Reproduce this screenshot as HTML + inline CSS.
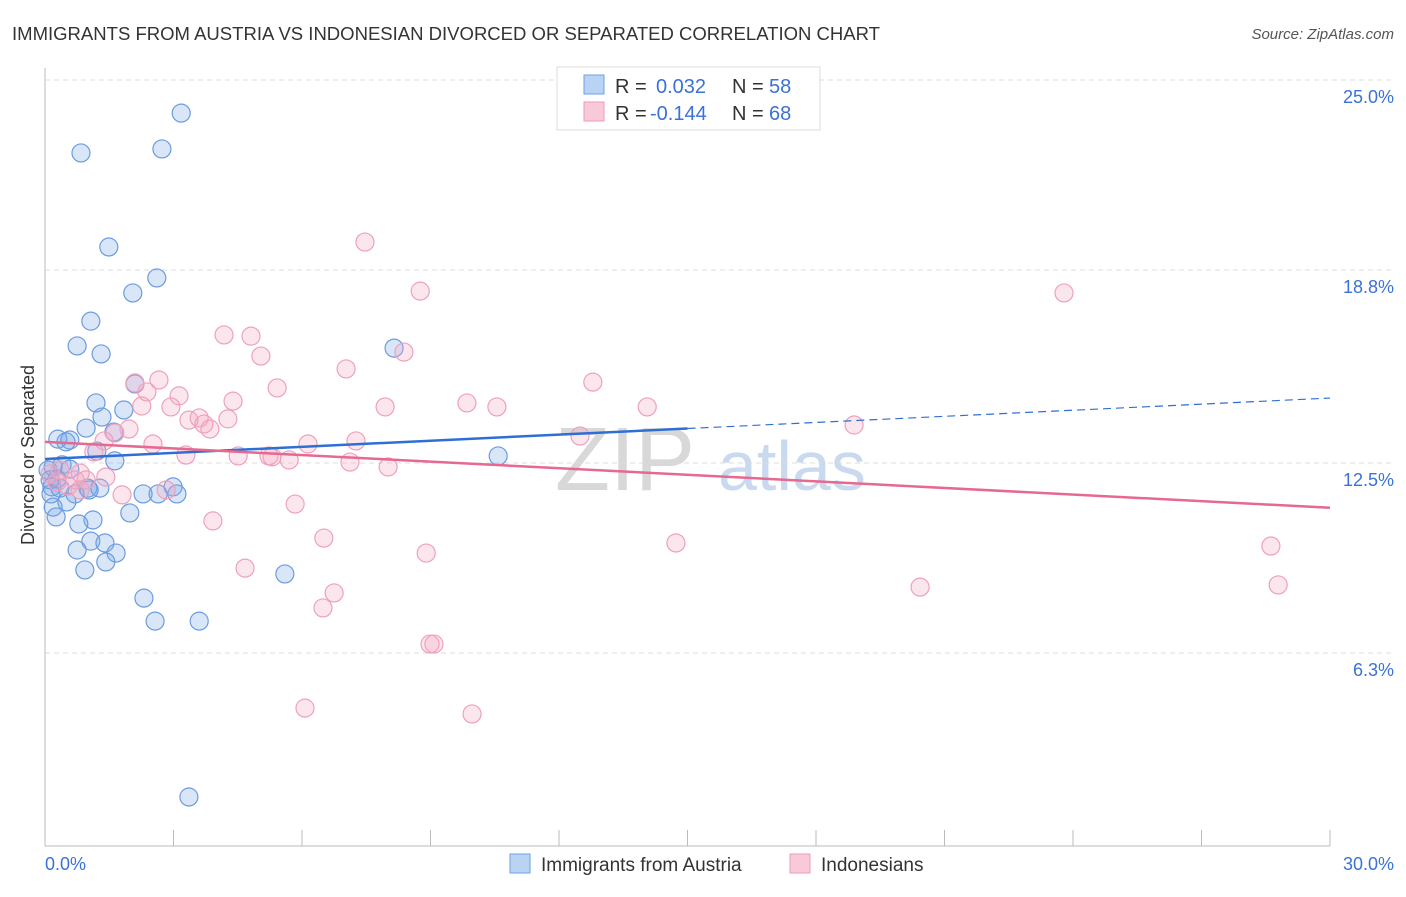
<!DOCTYPE html>
<html><head><meta charset="utf-8"><style>
body{margin:0;background:#fff;font-family:"Liberation Sans",sans-serif;}
svg text{font-family:"Liberation Sans",sans-serif;}
</style></head><body>
<svg id="chart" width="1406" height="892" xmlns="http://www.w3.org/2000/svg">
<text x="12" y="40" font-size="18" fill="#333" textLength="868" lengthAdjust="spacingAndGlyphs">IMMIGRANTS FROM AUSTRIA VS INDONESIAN DIVORCED OR SEPARATED CORRELATION CHART</text>
<text x="1394" y="39" font-size="15" fill="#555" font-style="italic" text-anchor="end">Source: ZipAtlas.com</text>
<text x="555" y="490" font-size="90" fill="#d8d8d8" font-family="Liberation Serif">ZIP</text>
<text x="718" y="490" font-size="70" fill="#c9d9ef">atlas</text>
<g id="grid"></g><g id="axes"></g><g id="pts"></g><g id="lines"></g>
<text transform="translate(34,455) rotate(-90)" font-size="18" fill="#333" text-anchor="middle">Divorced or Separated</text>
<text x="45" y="870" font-size="18" fill="#3a72d8">0.0%</text>
<text x="1394" y="870" font-size="18" fill="#3a72d8" text-anchor="end">30.0%</text>
<g>
<rect x="557" y="67" width="263" height="63" fill="#fff" stroke="#ddd"/>
<rect x="584" y="75" width="20" height="19" fill="#b9d3f5" stroke="#6f9fe0"/>
<rect x="584" y="102" width="20" height="19" fill="#f9c9d8" stroke="#ee9ab5"/>
<text x="615" y="93" font-size="20" fill="#333">R = </text><text x="656" y="93" font-size="20" fill="#3a72d8">0.032</text>
<text x="732" y="93" font-size="20" fill="#333">N = </text><text x="769" y="93" font-size="20" fill="#3a72d8">58</text>
<text x="615" y="120" font-size="20" fill="#333">R = </text><text x="650" y="120" font-size="20" fill="#3a72d8">-0.144</text>
<text x="732" y="120" font-size="20" fill="#333">N = </text><text x="769" y="120" font-size="20" fill="#3a72d8">68</text>
</g>
<g>
<rect x="510" y="854" width="20" height="19" fill="#b9d3f5" stroke="#6f9fe0"/>
<text x="541" y="871" font-size="19" fill="#333">Immigrants from Austria</text>
<rect x="790" y="854" width="20" height="19" fill="#f9c9d8" stroke="#ee9ab5"/>
<text x="821" y="871" font-size="19" fill="#333">Indonesians</text>
</g>
</svg>
<script>
const blueX=[3.18,0.84,2.73,1.49,2.61,2.05,1.07,0.75,1.31,8.15,2.10,1.19,1.84,1.33,0.96,1.61,0.30,0.58,0.49,1.21,1.63,0.40,0.19,0.58,0.07,0.28,0.16,1.00,1.28,0.14,0.70,1.03,2.29,2.64,2.99,3.08,0.51,0.19,0.26,1.98,1.12,0.79,1.07,1.40,0.75,1.66,1.42,0.93,2.31,2.57,3.60,5.60,10.58,3.36,0.12,0.35];
const blueY=[23.92,22.62,22.75,19.55,18.54,18.05,17.13,16.32,16.06,16.25,15.08,14.46,14.23,14.00,13.64,13.51,13.28,13.25,13.19,12.89,12.57,12.44,12.37,12.30,12.27,11.98,11.72,11.68,11.68,11.49,11.49,11.62,11.49,11.49,11.72,11.49,11.23,11.06,10.74,10.87,10.64,10.51,9.95,9.89,9.66,9.56,9.27,9.01,8.09,7.34,7.34,8.88,12.73,1.60,11.95,11.68];
const pinkX=[7.47,8.76,23.79,4.18,4.81,5.04,8.38,7.03,2.66,2.10,12.79,5.42,2.38,3.13,4.39,2.26,2.94,7.94,9.85,10.55,14.06,3.36,3.60,4.27,3.71,3.85,1.96,1.63,18.89,12.49,2.52,7.26,6.14,1.38,1.14,3.29,4.51,5.23,5.30,5.70,7.12,8.01,0.35,0.82,0.12,1.42,0.70,0.28,0.96,2.83,1.80,5.84,3.92,6.51,14.73,8.90,28.62,4.67,6.75,6.49,28.79,20.43,8.99,9.08,6.07,9.97,0.54,0.82];
const pinkY=[19.71,18.11,18.05,16.68,16.64,15.99,16.12,15.57,15.21,15.11,15.14,14.95,14.82,14.69,14.52,14.36,14.33,14.33,14.46,14.33,14.33,13.90,13.97,13.94,13.77,13.61,13.61,13.48,13.74,13.38,13.12,13.22,13.12,13.22,12.86,12.76,12.73,12.73,12.70,12.60,12.53,12.37,12.27,12.17,12.14,12.04,11.95,11.88,11.95,11.62,11.46,11.16,10.61,10.05,9.89,9.56,9.79,9.07,8.26,7.77,8.52,8.45,6.59,6.59,4.50,4.31,11.75,11.62];
const yTicks=[25.0,18.8,12.5,6.3];
const blueTrend=[12.63,14.62];
const pinkTrend=[13.19,11.04];
const NS="http://www.w3.org/2000/svg";
const sx=v=>45+v*(1285/30), sy=v=>846-v*(766/25);
function mk(tag,at,parent){const e=document.createElementNS(NS,tag);for(const k in at)e.setAttribute(k,at[k]);document.getElementById(parent).appendChild(e);return e;}
yTicks.forEach(t=>{
  const l=mk('line',{x1:45,x2:1394,y1:sy(t),y2:sy(t),stroke:'#ddd','stroke-dasharray':'5,4'},'grid');
  
  
  const tx=mk('text',{x:1394,y:sy(t)+23,'font-size':18,fill:'#3a72d8','text-anchor':'end'},'grid');
  tx.textContent=t.toFixed(1)+'%';
  
  
});
const ax=mk('line',{x1:45,x2:1330,y1:846,y2:846,stroke:'#bbb'},'axes');


const ay=mk('line',{x1:45,x2:45,y1:68,y2:846,stroke:'#bbb'},'axes');


for(let i=0;i<=10;i++){const t=mk('line',{x1:sx(i*3),x2:sx(i*3),y1:830,y2:846,stroke:'#bbb'},'axes');
  
  }
blueX.forEach((x,i)=>{const c=mk('circle',{cx:sx(x),cy:sy(blueY[i]),r:9,fill:'rgba(120,165,230,0.28)',stroke:'#6b9be0','stroke-width':1.2},'pts');
  
  });
pinkX.forEach((x,i)=>{const c=mk('circle',{cx:sx(x),cy:sy(pinkY[i]),r:9,fill:'rgba(244,165,195,0.28)',stroke:'#efa0bb','stroke-width':1.2},'pts');
  
  });
const bAt=x=>blueTrend[0]+(blueTrend[1]-blueTrend[0])*x/30;
const b1=mk('line',{x1:sx(0),y1:sy(bAt(0)),x2:sx(15),y2:sy(bAt(15)),stroke:'#2e6fd6','stroke-width':2.5},'lines');


const b2=mk('line',{x1:sx(15),y1:sy(bAt(15)),x2:sx(30),y2:sy(bAt(30)),stroke:'#2e6fd6','stroke-width':1.2,'stroke-dasharray':'8,5'},'lines');


const p1=mk('line',{x1:sx(0),y1:sy(pinkTrend[0]),x2:sx(30),y2:sy(pinkTrend[1]),stroke:'#e6698f','stroke-width':2.5},'lines');


</script>
</body></html>
